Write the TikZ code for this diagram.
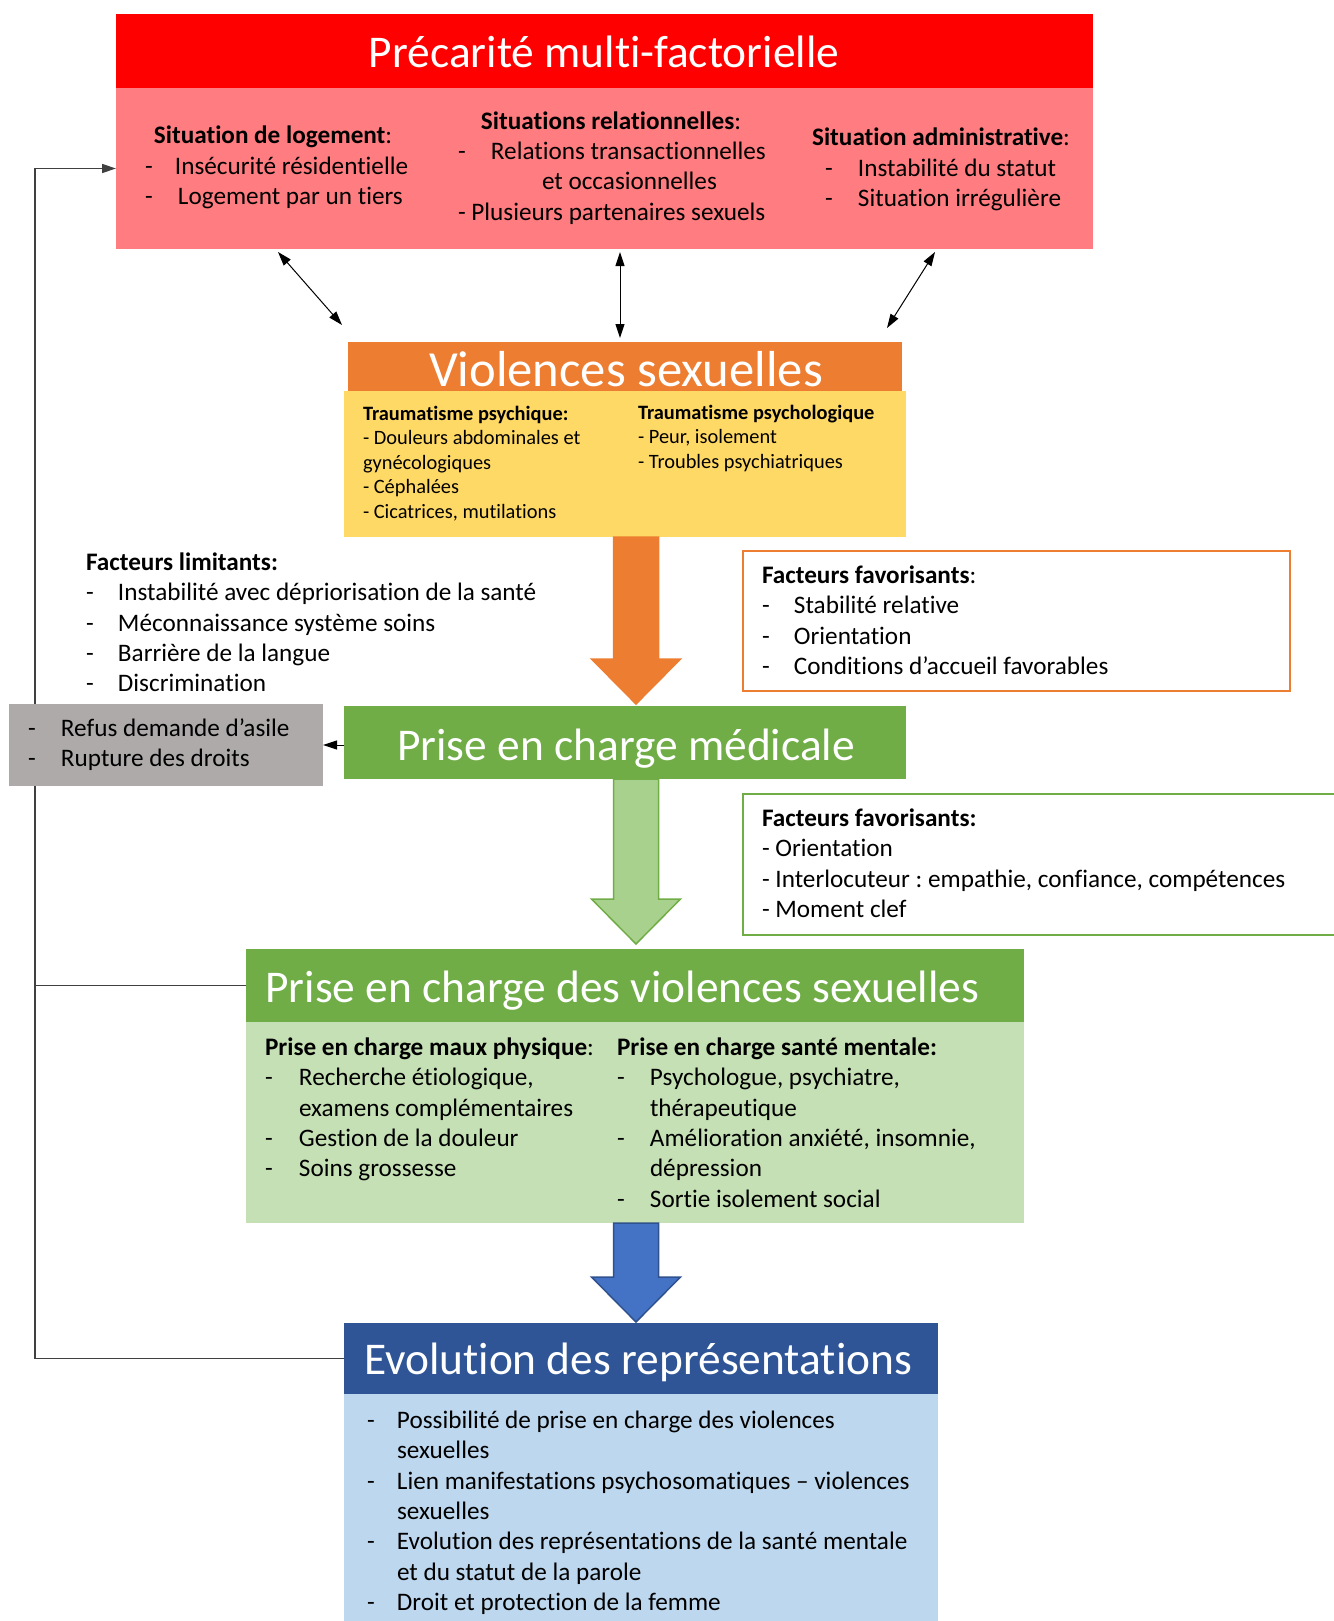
\documentclass[tikz,border=0pt]{standalone}
\usepackage{fontspec}
\setmainfont{Carlito}[Ligatures=NoCommon]
\usetikzlibrary{calc,arrows.meta}
\frenchspacing
\definecolor{cRed}{HTML}{FF0000}
\definecolor{cPink}{HTML}{FF7C80}
\definecolor{cOrange}{HTML}{ED7D31}
\definecolor{cYellow}{HTML}{FFD966}
\definecolor{cGreen}{HTML}{70AD47}
\definecolor{cLGreen}{HTML}{C5E0B4}
\definecolor{cMGreen}{HTML}{A9D18E}
\definecolor{cBlue}{HTML}{4472C4}
\definecolor{cBlueDk}{HTML}{2F528F}
\definecolor{cNavy}{HTML}{2F5597}
\definecolor{cLBlue}{HTML}{BDD7EE}
\definecolor{cGrey}{HTML}{AEAAAA}
\newcommand\dd[1]{\makebox[#1][l]{-}}
\newcommand\blockarr[4]{%
  \draw[fill=#3,draw=#4,line width=0.75pt,line join=miter]
   let \p1=#1, \p2=#2 in
   (\x1-11.25pt,\y1) -- (\x1+11.25pt,\y1) -- (\x1+11.25pt,\y2+22.5pt)
   -- (\x1+22.25pt,\y2+22.5pt) -- (\x1,\y2) -- (\x1-22.25pt,\y2+22.5pt)
   -- (\x1-11.25pt,\y2+22.5pt) -- cycle;}
\begin{document}
\begin{tikzpicture}[x=0.5pt,y=-0.5pt,
  panel/.style={inner sep=0pt,outer sep=0pt,anchor=north west},
  ttl/.style={text=white,inner sep=0pt,anchor=base,font=\fontsize{22.7}{27}\selectfont},
  txt/.style={inner sep=0pt,outer sep=0pt,anchor=north west,align=left,
              font=\fontsize{12.6}{15.2}\selectfont},
  small/.style={txt,font=\fontsize{10.2}{12.25}\selectfont},
  fb/.style={line width=0.7pt,draw=black!75},
  dbl/.style={line width=0.5pt,{Triangle[length=7pt,width=4.5pt]}-{Triangle[length=7pt,width=4.5pt]}},
]
\useasboundingbox (0,0) rectangle (1333,1621);

% ---------- boxes ----------
\node[panel,fill=cRed,minimum width=488.5pt,minimum height=37pt] (prec) at (116,14) {};
\node[panel,fill=cPink,minimum width=488.5pt,minimum height=80.5pt] (precb) at (116,88) {};
\node[panel,fill=cOrange,minimum width=277pt,minimum height=24.5pt] (viol) at (348,342) {};
\node[panel,fill=cYellow,minimum width=281pt,minimum height=73pt] (violb) at (344,391) {};
\node[panel,draw=cOrange,line width=0.75pt,minimum width=273.5pt,minimum height=70pt] (fav1) at (743,551) {};
\node[panel,fill=cGreen,minimum width=281pt,minimum height=36.5pt] (med) at (344,706) {};
\node[panel,draw=cGreen,line width=0.75pt,minimum width=310pt,minimum height=70.5pt] (fav2) at (743,794) {};
\node[panel,fill=cGreen,minimum width=389pt,minimum height=36.5pt] (pecv) at (246,949) {};
\node[panel,fill=cLGreen,minimum width=389pt,minimum height=100.5pt] (pecvb) at (246,1022) {};
\node[panel,fill=cNavy,minimum width=297pt,minimum height=35.5pt] (evol) at (344,1323) {};
\node[panel,fill=cLBlue,minimum width=297pt,minimum height=125pt] (evolb) at (344,1394) {};

% ---------- titles ----------
\node[ttl] (prect) at (604,68) {Précarité multi-factorielle};
\node[ttl,font=\fontsize{25.3}{30}\selectfont] (violt) at (626,386) {Violences sexuelles};
\node[ttl] (medt) at (626,760) {Prise en charge médicale};
\node[ttl,anchor=base west] (pecvt) at (265,1002) {Prise en charge des violences sexuelles};
\node[ttl] (evolt) at (638,1374) {Evolution des représentations};

% ---------- feedback loop ----------
\coordinate (lx) at (35,0);
\draw[fb,-{Triangle[length=7pt,width=4.5pt]}] (evol.west) -- (evol.west -| lx) -- (lx |- precb.west) -- (precb.west);
\draw[fb] (pecv.west) -- (pecv.west -| lx);

% grey box (on top of the loop line)
\node[panel,fill=cGrey,minimum width=157pt,minimum height=41pt] (grey) at (9,704) {};
\draw[line width=0.5pt,-{Triangle[length=7pt,width=4.5pt]}] (med.west |- grey.east) -- (grey.east);

% ---------- double arrows ----------
\coordinate (d1a) at (278,252); \coordinate (d1b) at (342,325);
\coordinate (d2a) at (620,252); \coordinate (d2b) at (620,338);
\coordinate (d3a) at (935,252); \coordinate (d3b) at (887,328);
\draw[dbl] (d1a) -- (d1b);
\draw[dbl] (d2a) -- (d2b);
\draw[dbl] (d3a) -- (d3b);

% ---------- block arrows ----------
\coordinate (oaT) at ($(violb.south)+(11,0)$);
\coordinate (oaB) at ($(med.north)+(11,-2)$);
\blockarr{(oaT)}{(oaB)}{cOrange}{cOrange}
\coordinate (gaT) at ($(med.south)+(11,0)$);
\coordinate (gaB) at ($(pecv.north)+(1,-5)$);
\blockarr{(gaT)}{(gaB)}{cMGreen}{cGreen}
\coordinate (baT) at ($(pecvb.south)+(1,0)$);
\coordinate (baB) at ($(evol.north)+(-5,-1)$);
\blockarr{(baT)}{(baB)}{cBlue}{cBlueDk}

% ---------- texts: précarité ----------
\node[txt,anchor=north] (p1t) at (273,122) {\strut\textbf{Situation de logement}:};
\node[txt] (p1i) at (145,153) {\strut\dd{15pt}Insécurité résidentielle\\\dd{16.5pt}Logement par un tiers};
\node[txt,anchor=north] (p2t) at (611,108) {\strut\textbf{Situations relationnelles}:};
\node[txt] (p2i) at (458,138) {\strut\dd{16.5pt}Relations transactionnelles\\\hspace*{42pt}et occasionnelles\\- Plusieurs partenaires sexuels};
\node[txt,anchor=north] (p3t) at (941,124) {\strut\textbf{Situation administrative}:};
\node[txt] (p3i) at (825,155) {\strut\dd{16.5pt}Instabilité du statut\\\dd{16.5pt}Situation irrégulière};

% ---------- texts: violences ----------
\node[small] (v1) at (363,403) {\strut\textbf{Traumatisme psychique:}\\- Douleurs abdominales et\\gynécologiques\\- Céphalées\\- Cicatrices, mutilations};
\node[small] (v2) at (638,402) {\strut\textbf{Traumatisme psychologique}\\- Peur, isolement\\- Troubles psychiatriques};

% ---------- facteurs ----------
\node[txt] (lim) at (86,549) {\strut\textbf{Facteurs limitants:}\\\dd{16pt}Instabilité avec dépriorisation de la santé\\\dd{16pt}Méconnaissance système soins\\\dd{16pt}Barrière de la langue\\\dd{16pt}Discrimination};
\node[txt] (f1) at (762,562) {\strut\textbf{Facteurs favorisants}:\\\dd{16pt}Stabilité relative\\\dd{16pt}Orientation\\\dd{16pt}Conditions d’accueil favorables};
\node[txt] (gt) at (28,715) {\strut\dd{16.5pt}Refus demande d’asile\\\dd{16.5pt}Rupture des droits};
\node[txt] (f2) at (762,805) {\strut\textbf{Facteurs favorisants:}\\- Orientation\\- Interlocuteur : empathie, confiance, compétences\\- Moment clef};

% ---------- prise en charge VS ----------
\node[txt] (pl) at (265,1034) {\strut\textbf{Prise en charge maux physique}:\\\dd{17pt}Recherche étiologique,\\\hspace*{17pt}examens complémentaires\\\dd{17pt}Gestion de la douleur\\\dd{17pt}Soins grossesse};
\node[txt] (pr) at (617,1034) {\strut\textbf{Prise en charge santé mentale:}\\\dd{16.5pt}Psychologue, psychiatre,\\\hspace*{16.5pt}thérapeutique\\\dd{16.5pt}Amélioration anxiété, insomnie,\\\hspace*{16.5pt}dépression\\\dd{16.5pt}Sortie isolement social};

% ---------- evolution ----------
\node[txt] (ev) at (367,1407) {\strut\dd{15pt}Possibilité de prise en charge des violences\\\hspace*{15pt}sexuelles\\\dd{15pt}Lien manifestations psychosomatiques – violences\\\hspace*{15pt}sexuelles\\\dd{15pt}Evolution des représentations de la santé mentale\\\hspace*{15pt}et du statut de la parole\\\dd{15pt}Droit et protection de la femme};
\end{tikzpicture}
\end{document}
